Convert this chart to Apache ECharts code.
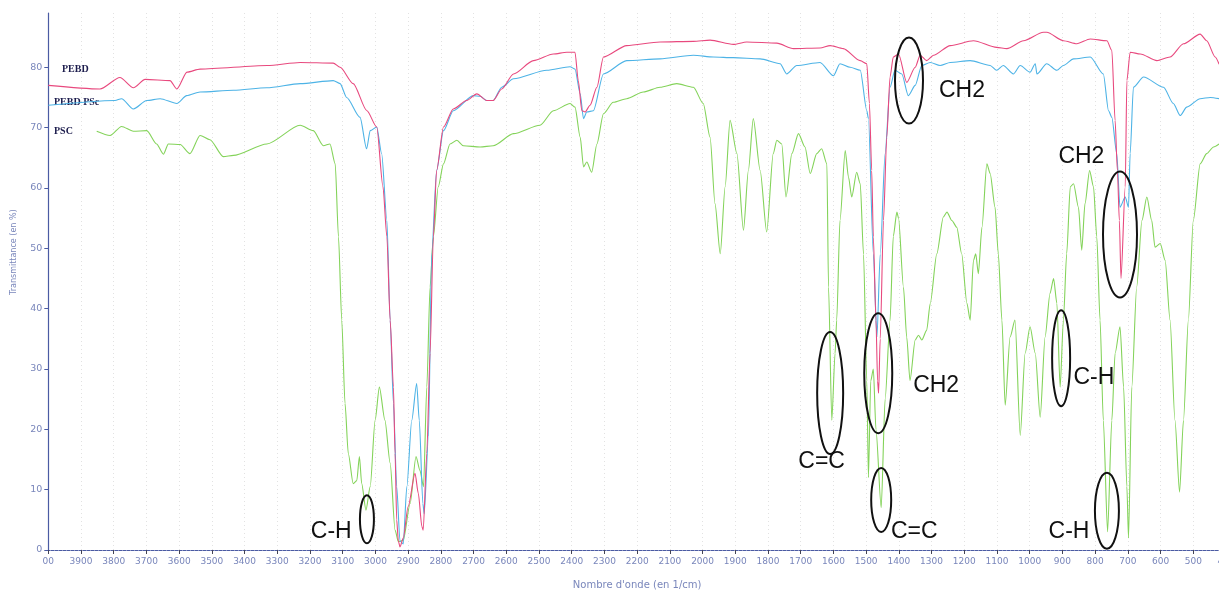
<!DOCTYPE html>
<html>
<head>
<meta charset="utf-8">
<script src="https://cdn.jsdelivr.net/npm/echarts@6/dist/echarts.min.js"></script>
<style>
  html, body { margin: 0; padding: 0; background: #fff; }
  #chart { width: 1219px; height: 592px; }
</style>
</head>
<body>
<div id="chart"></div>
<script>
// ---- Data (wavenumber in cm-1, transmittance in %) ----
const seriesNames = ['PEBD', 'PEBD PSc', 'PSC'];

const pebd = [
  [4000,77.0],[3842,76.4],[3781,78.3],[3740,76.6],[3704,78.0],[3628,77.8],[3607,76.4],[3576,79.2],
  [3536,79.7],[3331,80.3],[3230,80.8],[3129,80.7],[3108,80.0],[3068,77.3],[3026,72.8],[2996,70.1],
  [2977,60.2],[2965,51.9],[2955,38.1],[2945,27.0],[2940,16.0],[2935,5.0],[2930,1.5],[2925,0.5],
  [2915,2.0],[2900,7.2],[2879,12.7],[2869,9.4],[2858,3.9],[2854,3.3],[2843,16.0],[2833,32.6],
  [2823,51.9],[2813,62.9],[2792,70.1],[2762,73.1],[2721,74.5],[2690,75.6],[2660,74.5],[2640,74.5],
  [2614,76.4],[2578,78.9],[2517,81.1],[2456,82.2],[2415,82.5],[2390,82.5],[2380,77.8],[2369,72.8],
  [2359,72.6],[2344,73.7],[2323,76.7],[2303,81.7],[2232,83.6],[2130,84.2],[2028,84.3],[1977,84.5],
  [1906,83.8],[1865,84.2],[1773,84.0],[1722,83.1],[1641,83.2],[1610,83.6],[1570,83.1],[1518,81.1],
  [1498,80.6],[1490,74.0],[1483,62.9],[1478,51.9],[1470,38.1],[1465,28.0],[1462,26.0],[1457,35.0],
  [1447,54.6],[1437,68.4],[1427,78.4],[1417,81.7],[1401,82.2],[1376,77.5],[1350,80.0],[1335,82.0],
  [1315,81.1],[1294,82.0],[1243,83.6],[1172,84.4],[1101,83.3],[1070,83.1],[1019,84.4],[958,85.8],
  [948,85.8],[897,84.4],[856,83.9],[815,84.7],[764,84.4],[749,82.8],[739,71.2],[732,62.9],
  [726,54.6],[721,45.0],[708,60.2],[703,77.8],[693,82.5],[662,82.2],[611,81.1],[571,81.7],
  [530,83.9],[479,85.5],[459,84.4],[433,81.7],[421,80.5]
];

const pebdPsc = [
  [4000,73.7],[3796,74.5],[3776,74.8],[3740,73.1],[3699,74.5],[3658,74.8],[3607,74.0],[3577,75.3],
  [3536,75.9],[3434,76.2],[3332,76.6],[3230,77.3],[3129,77.8],[3108,77.3],[3088,75.0],[3047,71.7],
  [3027,66.5],[3016,69.5],[2996,70.1],[2981,65.7],[2965,54.6],[2955,38.1],[2945,24.3],[2935,10.5],
  [2925,1.5],[2915,1.0],[2904,10.5],[2889,21.5],[2874,27.6],[2866,21.5],[2855,7.7],[2851,6.0],
  [2838,18.8],[2828,49.1],[2813,62.9],[2792,69.5],[2762,72.8],[2701,75.3],[2680,75.2],[2660,74.5],
  [2640,74.5],[2614,76.7],[2578,78.1],[2476,79.5],[2405,80.1],[2390,79.7],[2374,75.6],[2364,71.5],
  [2354,72.6],[2334,72.8],[2303,78.9],[2232,81.1],[2130,81.4],[2028,82.0],[1967,81.7],[1906,81.6],
  [1824,81.4],[1763,80.6],[1743,78.9],[1712,80.3],[1641,80.8],[1600,78.6],[1580,80.6],[1549,80.0],
  [1518,79.5],[1498,72.8],[1493,71.5],[1478,49.1],[1467,35.3],[1457,49.0],[1442,65.7],[1427,76.7],
  [1412,79.5],[1391,78.9],[1371,75.3],[1350,77.0],[1330,80.3],[1304,80.8],[1274,80.3],[1243,80.8],
  [1182,81.1],[1121,80.3],[1101,79.5],[1081,80.3],[1050,78.9],[1029,80.3],[999,79.2],[983,80.6],
  [978,78.9],[948,80.6],[917,79.5],[897,80.3],[866,81.4],[815,81.7],[775,78.9],[759,72.8],
  [749,71.7],[734,65.7],[724,56.8],[708,58.5],[698,56.8],[693,65.7],[683,76.7],[652,78.4],
  [591,76.7],[561,74.0],[540,72.0],[520,73.4],[479,74.8],[448,75.0],[421,74.8]
];

const psc = [
  [3852,69.4],[3811,68.7],[3776,70.2],[3740,69.4],[3699,69.5],[3669,67.3],[3648,65.6],[3633,67.3],
  [3597,67.2],[3567,65.7],[3536,68.7],[3506,68.0],[3465,65.2],[3434,65.4],[3332,67.3],[3230,70.4],
  [3190,69.5],[3159,67.0],[3139,67.3],[3123,64.0],[3113,51.9],[3103,38.1],[3093,24.3],[3083,16.0],
  [3068,11.0],[3057,11.5],[3049,15.5],[3042,11.0],[3029,6.6],[3016,10.5],[3001,21.5],[2988,27.0],
  [2971,21.5],[2955,14.4],[2940,3.3],[2930,1.4],[2915,1.6],[2894,7.7],[2876,15.5],[2864,13.2],
  [2853,10.5],[2843,27.0],[2833,43.6],[2823,51.9],[2808,60.2],[2792,64.0],[2772,67.3],[2751,67.9],
  [2731,67.0],[2680,66.8],[2640,67.0],[2578,69.0],[2497,70.4],[2456,72.8],[2405,74.0],[2390,73.4],
  [2374,68.4],[2364,63.5],[2354,64.3],[2339,62.6],[2323,67.3],[2303,72.3],[2273,74.2],[2232,74.8],
  [2181,75.9],[2130,76.7],[2079,77.3],[2028,76.7],[1998,74.0],[1977,68.4],[1962,57.4],[1946,49.1],
  [1931,60.2],[1916,71.2],[1895,65.7],[1875,53.0],[1860,62.9],[1845,71.5],[1824,62.9],[1804,52.7],
  [1784,65.7],[1773,67.9],[1758,67.3],[1745,58.5],[1727,65.7],[1707,69.0],[1687,66.8],[1671,62.4],
  [1651,65.7],[1636,66.5],[1620,64.0],[1615,43.6],[1605,21.5],[1595,32.6],[1590,38.1],[1580,54.6],
  [1564,66.2],[1554,61.8],[1544,58.5],[1529,62.6],[1518,60.7],[1508,49.0],[1498,28.0],[1493,12.0],
  [1486,28.0],[1478,30.0],[1470,20.0],[1454,7.0],[1442,25.0],[1427,38.0],[1417,52.0],[1406,56.0],
  [1401,55.0],[1386,43.6],[1376,35.3],[1366,28.1],[1350,34.8],[1340,35.6],[1330,34.8],[1315,36.4],
  [1304,40.9],[1284,49.1],[1264,55.2],[1253,56.0],[1238,54.6],[1223,53.5],[1208,49.1],[1192,40.9],
  [1182,38.1],[1172,48.0],[1165,49.1],[1157,45.8],[1146,53.5],[1131,64.0],[1121,62.4],[1106,56.8],
  [1096,49.1],[1085,38.1],[1075,24.0],[1060,35.3],[1045,38.1],[1029,19.0],[1014,32.6],[999,37.0],
  [983,32.6],[968,22.0],[953,35.3],[938,42.5],[927,45.0],[917,40.9],[907,27.0],[897,38.1],
  [887,49.1],[876,60.2],[866,60.7],[851,56.8],[841,49.7],[831,57.4],[817,62.9],[805,60.2],
  [795,51.9],[785,38.1],[775,21.5],[762,3.0],[749,21.5],[739,32.6],[724,37.0],[713,27.0],
  [703,10.5],[698,2.0],[688,27.0],[673,43.6],[657,54.6],[642,58.5],[627,54.6],[617,50.2],
  [601,50.8],[586,48.0],[571,38.1],[556,21.5],[542,9.6],[530,21.5],[515,38.1],[500,54.6],
  [479,64.0],[459,65.7],[438,66.8],[421,67.3]
];

// Annotated bands: ellipse centres (wavenumber, transmittance)
const bandCentres = [
  [3026,5.1],[1369,77.8],[724,52.3],[1610,26.0],[1463,29.3],[1454,8.3],[904,31.8],[764,6.5]
];
// Annotation texts and their anchor (wavenumber, transmittance)
const bandLabels = ['C-H','CH2','CH2','C=C','CH2','C=C','C-H','C-H'];
const labelAnchors = [
  [3135,3.0],[1207,76.2],[842,65.2],[1636,14.6],[1286,27.2],[1353,3.1],[804,28.6],[880,3.0]
];

const yTicks = [0,10,20,30,40,50,60,70,80];
const xMin = 400, xMax = 4000, xStep = 100;
const yMax = 89;

// ---- styles (kept separate from data) ----
const ellipseRadii = [[7,24],[14,43],[17,63],[13,61],[14,60],[10,32],[9,48],[12,38]];
const lineColors = ['#e8497e', '#4db3e6', '#84d35a'];
const axisBlue = '#4b5ba3';
const labelBlue = '#7986bb';

const chart = echarts.init(document.getElementById('chart'), null, {renderer: 'canvas'});

const lineSeries = [pebd, pebdPsc, psc].map((d, i) => ({
  name: seriesNames[i],
  type: 'line',
  data: d,
  showSymbol: false,
  symbol: 'none',
  smooth: 0.25,
  smoothMonotone: 'x',
  lineStyle: { color: lineColors[i], width: 1.1 },
  z: 3 - i + 2
}));

const option = {
  animation: false,
  backgroundColor: '#ffffff',
  grid: { left: 48.3, right: -7, top: 13, bottom: 42, containLabel: false, outerBoundsMode: 'none' },
  xAxis: {
    type: 'value',
    inverse: true,
    min: xMin, max: xMax, interval: xStep,
    name: "Nombre d'onde (en 1/cm)",
    nameLocation: 'middle',
    nameGap: 30,
    nameTextStyle: { color: labelBlue, fontSize: 10, fontFamily: 'DejaVu Sans' },
    axisLine: { show: true, lineStyle: { color: axisBlue, width: 1, type: [3, 1] } },
    axisTick: { show: true, length: 4, inside: false, lineStyle: { color: '#445' } },
    axisLabel: {
      interval: 0, color: labelBlue, fontSize: 9, fontFamily: 'DejaVu Sans', margin: 7,
      hideOverlap: false,
      formatter: v => (v === xMax ? '00' : String(v))
    },
    splitLine: { show: true, lineStyle: { color: '#e2e2e2', type: [1, 3], width: 1 } }
  },
  yAxis: {
    type: 'value',
    min: 0, max: yMax,
    axisLine: { show: true, onZero: false, lineStyle: { color: axisBlue, width: 1.2 } },
    axisTick: { show: true, length: 4, customValues: yTicks, lineStyle: { color: axisBlue } },
    axisLabel: { customValues: yTicks, color: labelBlue, fontSize: 9.5, fontFamily: 'DejaVu Sans', margin: 6 },
    splitLine: { show: false }
  },
  graphic: [
    { type: 'text', left: 62, top: 64, style: { text: 'PEBD', fill: '#1d1d4d', font: 'bold 10px "Liberation Serif"' } },
    { type: 'text', left: 54, top: 97, style: { text: 'PEBD PSc', fill: '#1d1d4d', font: 'bold 10px "Liberation Serif"' } },
    { type: 'text', left: 54, top: 126, style: { text: 'PSC', fill: '#1d1d4d', font: 'bold 10px "Liberation Serif"' } },
    { type: 'text', x: 14, y: 295, rotation: Math.PI / 2,
      style: { text: 'Transmittance (en %)', fill: labelBlue, font: '8px "DejaVu Sans"', align: 'left', verticalAlign: 'middle' } }
  ],
  series: [
    ...lineSeries,
    {
      type: 'custom',
      name: 'bands',
      data: bandCentres,
      z: 10,
      silent: true,
      clip: false,
      renderItem: (params, api) => {
        const p = api.coord([api.value(0), api.value(1)]);
        const r = ellipseRadii[params.dataIndex];
        return {
          type: 'ellipse',
          shape: { cx: p[0], cy: p[1], rx: r[0], ry: r[1] },
          style: { fill: 'none', stroke: '#111111', lineWidth: 2 }
        };
      }
    },
    {
      type: 'custom',
      name: 'bandText',
      data: labelAnchors,
      z: 11,
      silent: true,
      clip: false,
      renderItem: (params, api) => {
        const p = api.coord([api.value(0), api.value(1)]);
        return {
          type: 'text',
          x: p[0], y: p[1],
          style: {
            text: bandLabels[params.dataIndex],
            fill: '#111111',
            font: '23px "Liberation Sans"',
            align: 'center', verticalAlign: 'middle'
          }
        };
      }
    }
  ]
};

chart.setOption(option);
</script>
</body>
</html>
